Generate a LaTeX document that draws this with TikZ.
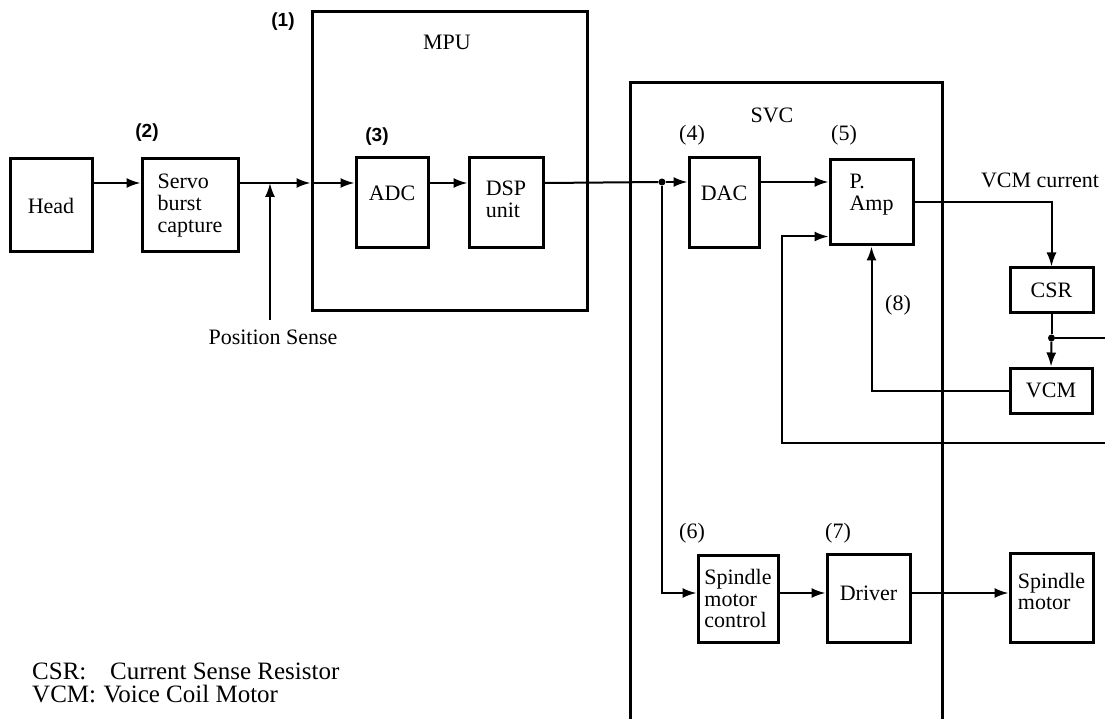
\documentclass[tikz,border=0pt]{standalone}
\usepackage{fontspec}
\setmainfont{Liberation Serif}
\newfontfamily\numfont{Liberation Sans}
\usetikzlibrary{arrows.meta}

\begin{document}
\begin{tikzpicture}[x=1pt,y=-1pt,
    blk/.style={draw,line width=3pt,inner sep=0pt,align=left,font=\fontsize{22}{21.7}\selectfont},
    unit/.style={draw,line width=3pt,inner sep=0pt},
    txt/.style={inner sep=0pt,font=\fontsize{22}{21.7}\selectfont},
    num/.style={inner sep=0pt,font=\numfont\bfseries\fontsize{19}{21}\selectfont},
    key/.style={inner sep=0pt,anchor=base west,font=\fontsize{25}{25}\selectfont},
    wire/.style={line width=2pt},
    arr/.style={wire,-{Latex[length=14pt,width=10pt]}},
    dot/.style={circle,fill,inner sep=0pt,minimum size=7pt}]
    \useasboundingbox (0,0) rectangle (1105,719);
    \coordinate (sig) at (0,183);
    \coordinate (spin) at (0,593);
    \coordinate (psbase) at (270,320);
    \coordinate (csrtap) at (1105,338);
    \coordinate (fbin) at (1105,443);
    \coordinate (fbturn) at (782,443);

    % MPU and SVC
    \node[unit,minimum width=275pt,minimum height=298pt] (mpu) at (449.5,161) {};
    \draw[line width=3pt] (630,719) |- (942,83) -- (942,719);
    \node[txt] (mpulbl) at (447,42) {MPU};
    \node[txt] (svclbl) at (772,115) {SVC};

    \node[blk,minimum width=82pt,minimum height=93pt] (head) at (51,205.5) {Head};
    \node[blk,minimum width=96pt,minimum height=93pt] (servo) at (190,205.5) {Servo\\burst\\capture};
    \node[blk,minimum width=72pt,minimum height=90pt,text depth=20pt] (adc) at (392,203) {ADC};
    \node[blk,minimum width=74pt,minimum height=90pt,text depth=8pt] (dsp) at (506,203) {DSP\\unit};
    \node[blk,minimum width=70pt,minimum height=90pt,text depth=20pt] (dac) at (724,203) {DAC};
    \node[blk,minimum width=83pt,minimum height=85pt,text depth=20pt] (pamp) at (871.5,202.5) {P.\\Amp};
    \node[blk,minimum width=83pt,minimum height=44pt] (csr) at (1051.5,290) {CSR};
    \node[blk,minimum width=82pt,minimum height=45pt] (vcm) at (1051,390.5) {VCM};
    \node[blk,minimum width=80pt,minimum height=87pt] (smc) at (738,598.5) {Spindle\\motor\\control};
    \node[blk,minimum width=83pt,minimum height=88pt,text depth=10pt] (drv) at (868.5,598) {Driver};
    \node[blk,minimum width=83pt,minimum height=89pt,text depth=12pt] (spm) at (1051.5,597.5) {Spindle\\motor};

    \node[num] (n1) at (283,22) {(1)};
    \node[num] (n2) at (147,133) {(2)};
    \node[num] (n3) at (377,137) {(3)};
    \node[txt] (n4) at (692,135) {(4)};
    \node[txt] (n5) at (844,135) {(5)};
    \node[txt] (n6) at (692,533) {(6)};
    \node[txt] (n7) at (838,533) {(7)};
    \node[txt] (n8) at (898,305) {(8)};
    \node[txt] (vcmcur) at (1040,180) {VCM current};
    \node[txt] (possense) at (273,337) {Position Sense};

    % signal path
    \draw[arr] (head.east |- sig) -- (servo.west |- sig);
    \draw[arr] (servo.east |- sig) -- (mpu.west |- sig);
    \draw[arr] (mpu.west |- sig) -- (adc.west |- sig);
    \draw[arr] (adc.east |- sig) -- (dsp.west |- sig);
    \node[dot] (split) at (662,182) {};
    \draw[wire] (dsp.east |- sig) -- (split);
    \draw[arr] (split) -- (dac.west |- split);
    \draw[arr] (dac.east |- split) -- (pamp.west |- split);
    \draw[arr] (psbase) -- (psbase |- sig);

    % VCM loop
    \draw[arr] (pamp.east) -| (csr.north);
    \node[dot] (tap) at (csr.south |- csrtap) {};
    \draw[wire] (csr.south) -- (tap);
    \draw[arr] (tap) -- (vcm.north);
    \draw[wire] (tap) -- (csrtap);
    \draw[arr] (vcm.west) -| (pamp.south);
    \draw[arr] (fbin) -- (fbturn) |- ([yshift=10pt]pamp.south west);

    % spindle
    \draw[arr] (split) |- (smc.west |- spin);
    \draw[arr] (smc.east |- spin) -- (drv.west |- spin);
    \draw[arr] (drv.east |- spin) -- (spm.west |- spin);

    \node[key] (csrkey) at (32,679) {CSR:};
    \node[key] (csrtext) at (110,679) {Current Sense Resistor};
    \node[key] (vcmkey) at (32,702) {VCM:};
    \node[key,anchor=base west] (vcmtext) at ([xshift=7pt]vcmkey.base east) {Voice Coil Motor};
\end{tikzpicture}
\end{document}
